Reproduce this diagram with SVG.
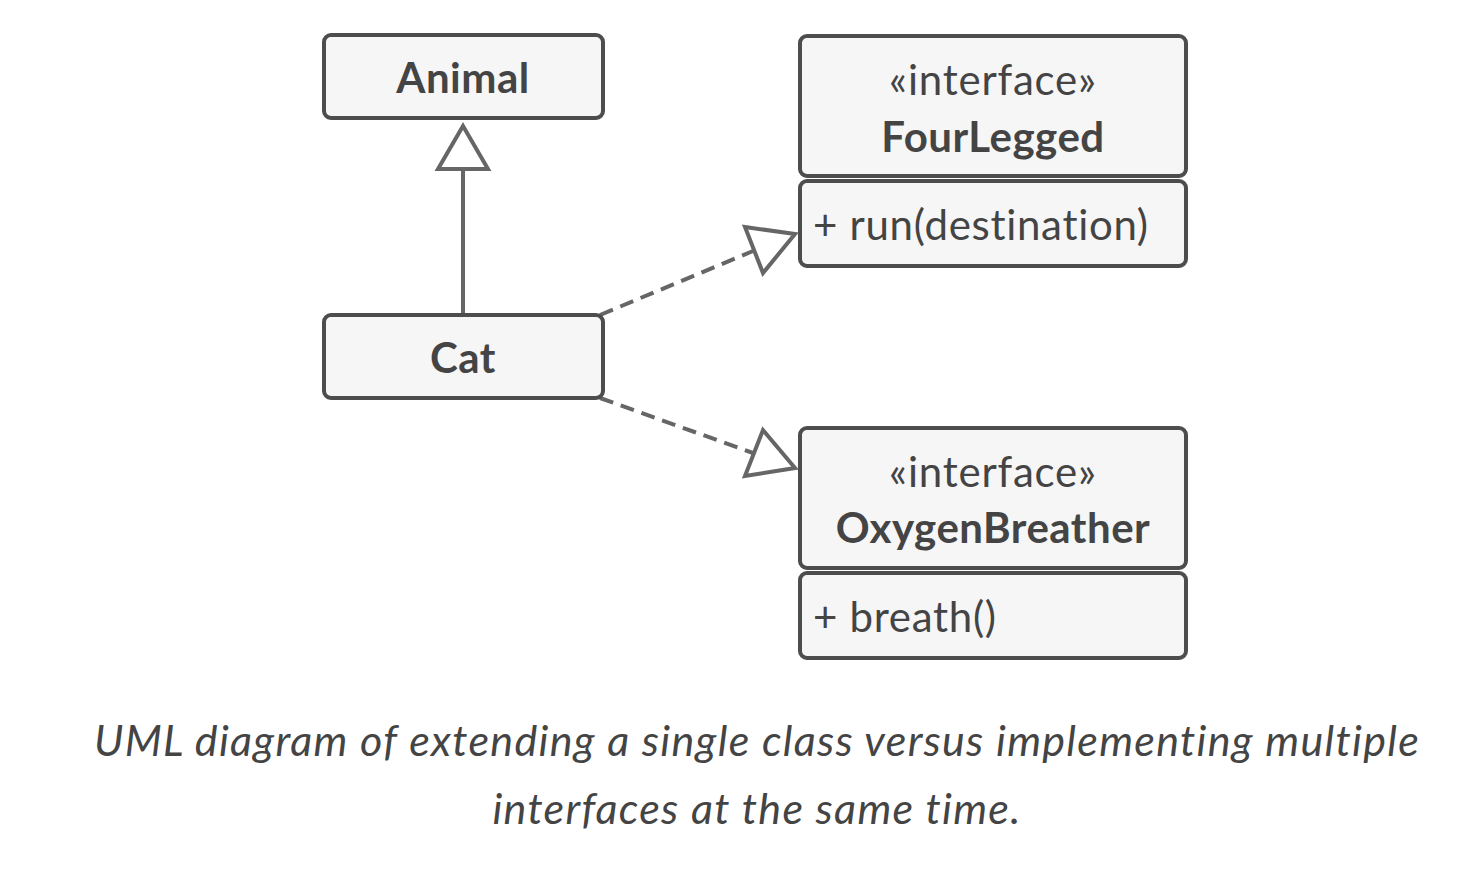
<svg xmlns="http://www.w3.org/2000/svg" width="1470" height="876" viewBox="0 0 1470 876">
<style>
.box{fill:#f6f6f6;stroke:#4d4d4d;stroke-width:4}
.t{font-family:Lato,"Noto Sans",sans-serif;fill:#444;font-size:42px;font-variant-ligatures:none}
.b{font-weight:bold;text-anchor:middle;letter-spacing:0.5px}
.r{text-anchor:middle;letter-spacing:0.8px}
.m{text-anchor:start;letter-spacing:0.7px}
.cap{font-family:Lato,"Noto Sans",sans-serif;font-style:italic;fill:#444;font-size:43px;letter-spacing:1.3px;text-anchor:middle;font-variant-ligatures:none}
.ln{fill:none;stroke:#666;stroke-width:4}
.dash{stroke-dasharray:14 8}
.head{fill:#fff;stroke:#666;stroke-width:4;stroke-linejoin:miter}
</style>
<rect width="1470" height="876" fill="#fff"/>
<g id="connectors">
<line class="ln" x1="463" y1="313" x2="463" y2="170"/>
<polygon class="head" points="463,126 488,169 438,169"/>
<line class="ln dash" x1="600" y1="315" x2="753" y2="251"/>
<polygon class="head" points="795,234 745,227 763,273"/>
<line class="ln dash" x1="600" y1="398" x2="753" y2="453"/>
<polygon class="head" points="795,468 763,430 745,476"/>
</g>
<g id="animal">
<rect class="box" x="324" y="35" width="279" height="83" rx="7"/>
<text class="t b" x="463" y="93">Animal</text>
</g>
<g id="cat">
<rect class="box" x="324" y="315" width="279" height="83" rx="7"/>
<text class="t b" x="463" y="373">Cat</text>
</g>
<g id="fourlegged">
<rect class="box" x="800" y="36" width="386" height="140" rx="7"/>
<rect class="box" x="800" y="181" width="386" height="85" rx="7"/>
<text class="t r" x="993" y="95">«interface»</text>
<text class="t b" x="993" y="152">FourLegged</text>
<text class="t m" x="813" y="240">+ run(destination)</text>
</g>
<g id="oxygenbreather">
<rect class="box" x="800" y="428" width="386" height="140" rx="7"/>
<rect class="box" x="800" y="573" width="386" height="85" rx="7"/>
<text class="t r" x="993" y="487">«interface»</text>
<text class="t b" x="993" y="543">OxygenBreather</text>
<text class="t m" x="813" y="632">+ breath()</text>
</g>
<g id="caption">
<text class="cap" x="757" y="756">UML diagram of extending a single class versus implementing multiple</text>
<text class="cap" x="757" y="824">interfaces at the same time.</text>
</g>
</svg>
